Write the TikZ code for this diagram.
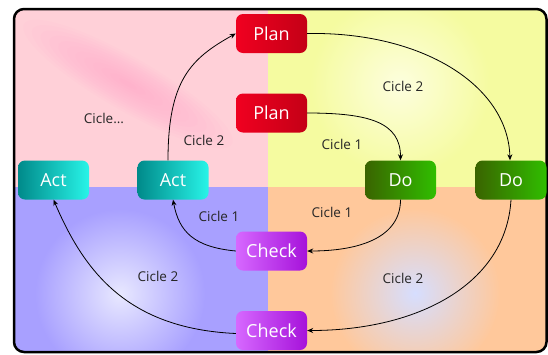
\documentclass[tikz,border=0pt]{standalone}
\usepackage{fontspec}
\setmainfont{Open Sans}
\usetikzlibrary{arrows.meta}

\definecolor{pinkquad}{RGB}{255,208,216}
\definecolor{pinkglow}{RGB}{255,160,204}
\definecolor{yellowquad}{RGB}{245,251,160}
\definecolor{yellowglow}{RGB}{253,254,222}
\definecolor{bluequad}{RGB}{168,160,255}
\definecolor{blueglow}{RGB}{232,232,255}
\definecolor{orangequad}{RGB}{255,200,155}
\definecolor{orangeglow}{RGB}{214,222,255}
\definecolor{planL}{RGB}{240,0,32}
\definecolor{planR}{RGB}{196,0,22}
\definecolor{actL}{RGB}{0,138,138}
\definecolor{actR}{RGB}{40,244,232}
\definecolor{doL}{RGB}{58,100,0}
\definecolor{doR}{RGB}{48,190,0}
\definecolor{checkL}{RGB}{214,104,255}
\definecolor{checkR}{RGB}{166,18,218}

\begin{document}
\begin{tikzpicture}[x = 1pt, y = -1pt,
    box/.style = {rounded corners = 7pt, minimum width = 71pt, minimum height = 39pt, inner sep = 0pt, text = white, font = \fontsize{18}{20}\selectfont},
    planbox/.style = {box, left color = planL, right color = planR},
    actbox/.style = {box, left color = actL, right color = actR},
    dobox/.style = {box, left color = doL, right color = doR},
    checkbox/.style = {box, left color = checkL, right color = checkR},
    lbl/.style = {font = \fontsize{13.5}{15}\selectfont, text = black!85},
    flow/.style = {-{Stealth[length = 6pt, width = 5pt]}, line width = 0.8pt}]
    \useasboundingbox (0,0) rectangle (548,354);
    \begin{scope}
    \clip[rounded corners = 10pt] (14,9) rectangle (546.5,352);
    \fill[pinkquad] (14,9) rectangle (268,187);
    \fill[yellowquad] (268,9) rectangle (546.5,187);
    \fill[bluequad] (14,187) rectangle (268,352);
    \fill[orangequad] (268,187) rectangle (546.5,352);
    \begin{scope}
    \clip (14,9) rectangle (268,187);
    \foreach \s in {1,...,12}
        \fill[pinkglow, opacity = 0.06, rotate around = {-30:(128,84)}] (128,84) ellipse ({10*\s pt} and {2.2*\s pt});
    \end{scope}
    \begin{scope}
    \clip (268,9) rectangle (546.5,187);
    \shade[inner color = yellowglow, outer color = yellowquad] (400,85) circle (90pt);
    \end{scope}
    \begin{scope}
    \clip (14,187) rectangle (268,352);
    \shade[inner color = blueglow, outer color = bluequad] (120,294) circle (85pt);
    \end{scope}
    \begin{scope}
    \clip (268,187) rectangle (546.5,352);
    \shade[inner color = orangeglow, outer color = orangequad] (415,293) circle (85pt);
    \end{scope}
    \end{scope}
    \draw[line width = 2.5pt, rounded corners = 10pt] (14,9) rectangle (546.5,352);

    \node[planbox] (planOut) at (271.5,33.5) {Plan};
    \node[planbox] (planIn) at (271.5,113) {Plan};
    \node[actbox] (actOut) at (53.5,180) {Act};
    \node[actbox] (actIn) at (173,180) {Act};
    \node[dobox] (doIn) at (400.5,180) {Do};
    \node[dobox] (doOut) at (511,180) {Do};
    \node[checkbox] (checkIn) at (271.5,251) {Check};
    \node[checkbox] (checkOut) at (271.5,330.5) {Check};

    \node[lbl] (lblDots) at (104,118) {Cicle...};
    \node[lbl] (lblActPlan) at (204,140) {Cicle 2};
    \node[lbl] (lblPlanDo2) at (403,86) {Cicle 2};
    \node[lbl] (lblPlanDo1) at (342,144) {Cicle 1};
    \node[lbl] (lblCheckAct1) at (219,216) {Cicle 1};
    \node[lbl] (lblCheckAct2) at (158,276) {Cicle 2};
    \node[lbl] (lblDoCheck1) at (332,212) {Cicle 1};
    \node[lbl] (lblDoCheck2) at (403,278) {Cicle 2};

    \draw[flow] ([xshift = -5pt]actIn.north) .. controls +(0,-80) and +(-45,25) .. (planOut.west);
    \draw[flow] (planOut.east) .. controls +(115,-2) and +(-2,-75) .. ([xshift = -1pt]doOut.north);
    \draw[flow] (planIn.east) .. controls +(62,0) and +(0,-38) .. (doIn.north);
    \draw[flow] (doIn.south) .. controls +(0,38) and +(52,0) .. (checkIn.east);
    \draw[flow] (doOut.south) .. controls +(-5,85) and +(110,0) .. (checkOut.east);
    \draw[flow] (checkIn.west) .. controls +(-42,-4) and +(6,32) .. (actIn.south);
    \draw[flow] ([yshift = -3pt]checkOut.west) .. controls +(-110,-5) and +(30,70) .. (actOut.south);
    \end{tikzpicture}
\end{document}
